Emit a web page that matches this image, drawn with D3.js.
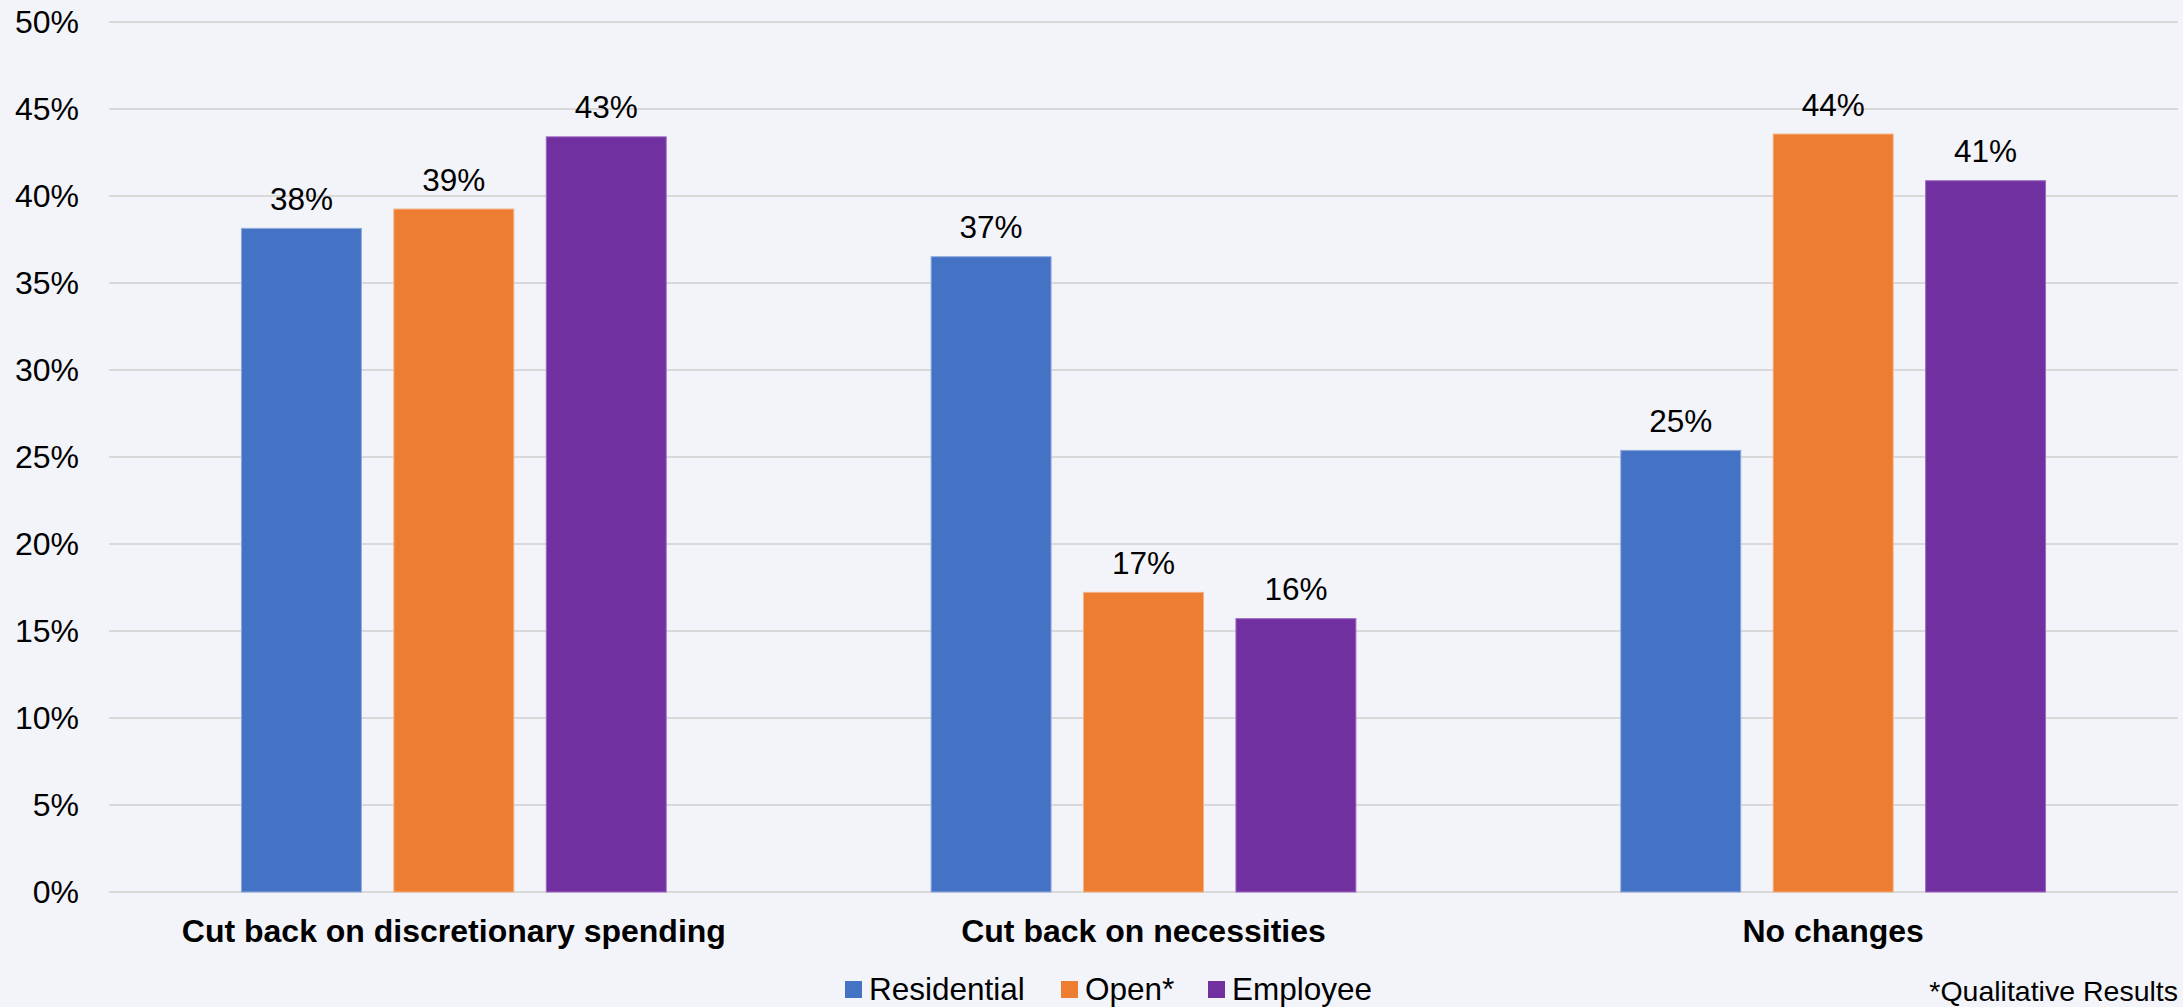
<!DOCTYPE html>
<html>
<head>
<meta charset="utf-8">
<script src="https://cdn.jsdelivr.net/npm/d3@7"></script>
<style>
  html, body { margin: 0; padding: 0; background: #f3f4f9; }
  svg { display: block; font-family: "Liberation Sans", Arial, sans-serif; }
</style>
</head>
<body>
<script>
//chart data
var categories = ["Cut back on discretionary spending", "Cut back on necessities", "No changes"];
var seriesNames = ["Residential", "Open*", "Employee"];
var residential = [38.14, 36.51, 25.38];
var open = [39.25, 17.22, 43.56];
var employee = [43.4, 15.71, 40.88];
var yTicks = [0, 5, 10, 15, 20, 25, 30, 35, 40, 45, 50];
var colors = ["#4472c4", "#ed7d31", "#7030a0"];
var strokes = ["#8faadc", "#f4b183", "#9e6bc4"];

window.onload = function(){

    var w = 2183, h = 1007;
    var left = 109, right = 2178, top = 22, bottom = 892;

    var svg = d3.select("body")
        .append("svg")
        .attr("width", w)
        .attr("height", h);

    svg.append("rect")
        .attr("width", w)
        .attr("height", h)
        .attr("fill", "#f3f4f9");

    var values = [residential, open, employee];

    //scales
    var y = d3.scaleLinear()
        .domain([0, 50])
        .range([bottom, top]);

    var x0 = d3.scaleBand()
        .domain(categories)
        .range([left, right])
        .padding(0);

    var x1 = d3.scaleBand()
        .domain(seriesNames)
        .range([0, x0.bandwidth()])
        .paddingInner(0.213)
        .paddingOuter(0.869);

    //gridlines
    svg.append("g")
        .selectAll("line")
        .data(yTicks)
        .enter()
        .append("line")
        .attr("x1", left)
        .attr("x2", right)
        .attr("y1", function(d){ return y(d); })
        .attr("y2", function(d){ return y(d); })
        .attr("stroke", "#d9d9d9")
        .attr("stroke-width", 2);

    //y tick labels
    svg.append("g")
        .selectAll("text")
        .data(yTicks)
        .enter()
        .append("text")
        .attr("x", 79)
        .attr("y", function(d){ return y(d); })
        .attr("dy", "0.35em")
        .attr("text-anchor", "end")
        .attr("font-size", "32px")
        .attr("fill", "#000")
        .text(function(d){ return d + "%"; });

    //flatten into bar records
    var bars = [];
    categories.forEach(function(c, i){
        seriesNames.forEach(function(s, j){
            bars.push({cat: c, series: s, idx: j, value: values[j][i]});
        });
    });

    var format = d3.format(".0%");

    svg.append("g")
        .selectAll("rect")
        .data(bars)
        .enter()
        .append("rect")
        .attr("x", function(d){ return x0(d.cat) + x1(d.series); })
        .attr("y", function(d){ return y(d.value); })
        .attr("width", x1.bandwidth())
        .attr("height", function(d){ return y(0) - y(d.value); })
        .attr("fill", function(d){ return colors[d.idx]; })
        .attr("stroke", function(d){ return strokes[d.idx]; })
        .attr("stroke-width", 1);

    //value labels
    svg.append("g")
        .selectAll("text")
        .data(bars)
        .enter()
        .append("text")
        .attr("x", function(d){ return x0(d.cat) + x1(d.series) + x1.bandwidth() / 2; })
        .attr("y", function(d){ return y(d.value) - 18.5; })
        .attr("text-anchor", "middle")
        .attr("font-size", "31.5px")
        .attr("fill", "#000")
        .text(function(d){ return format(d.value / 100); });

    //category labels
    svg.append("g")
        .selectAll("text")
        .data(categories)
        .enter()
        .append("text")
        .attr("x", function(d){ return x0(d) + x0.bandwidth() / 2; })
        .attr("y", 942)
        .attr("text-anchor", "middle")
        .attr("font-size", "32px")
        .attr("font-weight", "bold")
        .attr("fill", "#000")
        .text(function(d){ return d; });

    //legend
    var legendX = [845, 1061, 1208];
    var legend = svg.append("g")
        .selectAll("g")
        .data(seriesNames)
        .enter()
        .append("g")
        .attr("transform", function(d, i){ return "translate(" + legendX[i] + ",0)"; });

    legend.append("rect")
        .attr("x", 0)
        .attr("y", 981)
        .attr("width", 17)
        .attr("height", 17)
        .attr("fill", function(d, i){ return colors[i]; });

    legend.append("text")
        .attr("x", 24)
        .attr("y", 1000)
        .attr("font-size", "31.5px")
        .attr("fill", "#000")
        .text(function(d){ return d; });

    //footnote
    svg.append("text")
        .attr("x", 2178)
        .attr("y", 1001)
        .attr("text-anchor", "end")
        .attr("font-size", "28.5px")
        .attr("fill", "#000")
        .text("*Qualitative Results");
};
</script>
</body>
</html>
